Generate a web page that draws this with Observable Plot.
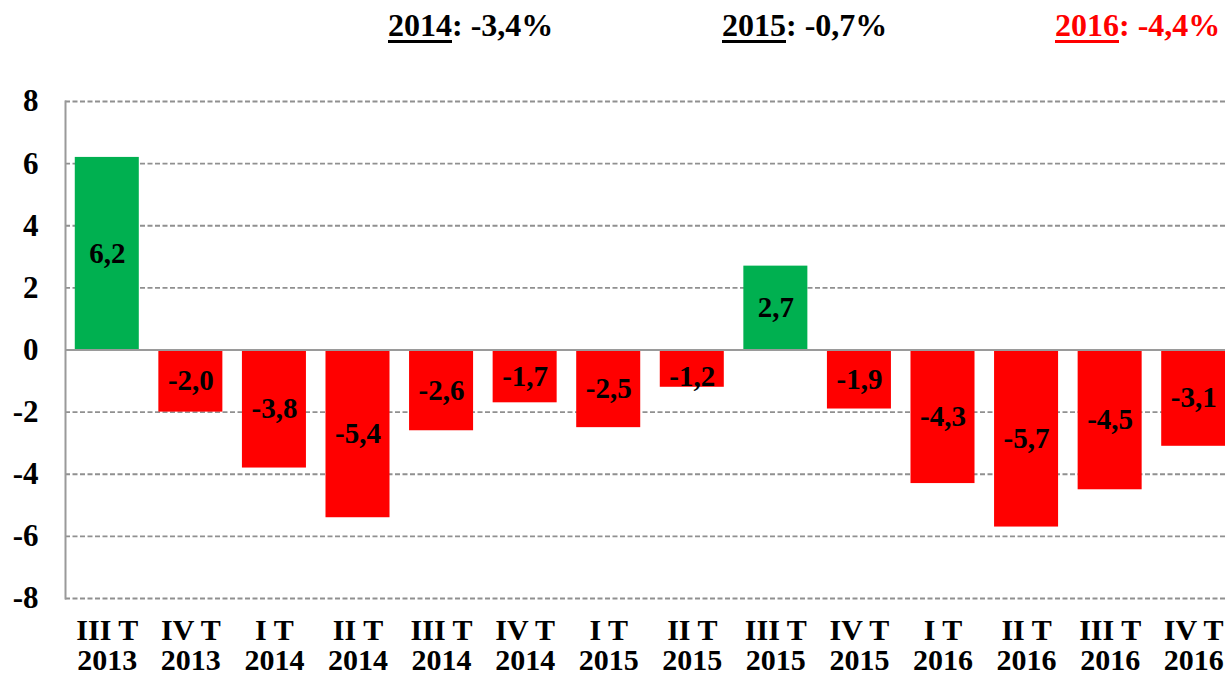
<!DOCTYPE html>
<html>
<head>
<meta charset="utf-8">
<script src="https://cdn.jsdelivr.net/npm/d3@7"></script>
<script src="https://cdn.jsdelivr.net/npm/@observablehq/plot@0.6"></script>
<style>
  html, body { margin: 0; padding: 0; background: #fff; }
  #wrap { position: relative; width: 1225px; height: 678px; overflow: hidden; font-family: "Liberation Serif", "Times New Roman", serif; font-weight: bold; }
  .hdr { position: absolute; top: 9px; font-size: 32px; line-height: 32px; white-space: nowrap; }
  .hdr .yr { text-decoration: underline; text-decoration-thickness: 3px; text-underline-offset: 4px; }
</style>
</head>
<body>
<div id="wrap"></div>
<script>
// Data
const quarters = ["III T", "IV T", "I T", "II T", "III T", "IV T", "I T", "II T", "III T", "IV T", "I T", "II T", "III T", "IV T"];
const years    = ["2013", "2013", "2014", "2014", "2014", "2014", "2015", "2015", "2015", "2015", "2016", "2016", "2016", "2016"];
const values   = [6.2, -2.0, -3.8, -5.4, -2.6, -1.7, -2.5, -1.2, 2.7, -1.9, -4.3, -5.7, -4.5, -3.1];
const yTicks   = [-8, -6, -4, -2, 0, 2, 4, 6, 8];
const headerYears  = ["2014", "2015", "2016"];
const headerValues = ["-3,4%", "-0,7%", "-4,4%"];
const headerColors = ["#000000", "#000000", "#FF0000"];
const headerLeft   = [388, 722, 1055];

const labels = quarters.map((q, i) => q + "\n" + years[i]);
const data = values.map((v, i) => ({ cat: labels[i], v }));
const fmt = v => v.toFixed(1).replace(".", ",");

const chart = Plot.plot({
  width: 1225,
  height: 678,
  marginLeft: 65,
  marginRight: 0,
  marginTop: 101,
  marginBottom: 80,
  style: { fontFamily: "Liberation Serif, Times New Roman, serif", fontWeight: "bold", color: "#000", background: "#fff" },
  x: { domain: labels, range: [65, 1235], paddingInner: 0.234, paddingOuter: 0.117, round: false, label: null },
  y: { domain: [-8, 8], ticks: yTicks, label: null },
  marks: [
    Plot.ruleY(yTicks.filter(t => t !== 0), { stroke: "#909090", strokeWidth: 1.8, strokeDasharray: "5,2.5" }),
    Plot.barY(data, { x: "cat", y: "v", fill: d => d.v >= 0 ? "#00B050" : "#FF0000" }),
    Plot.ruleY([0], { stroke: "#9a9a9a", strokeWidth: 2 }),
    Plot.frame({ anchor: "left", stroke: "#9a9a9a", strokeWidth: 2 }),
    Plot.text(data, {
      x: "cat",
      y: d => d.v > 0 ? d.v / 2 : Math.min(d.v / 2, -0.85),
      text: d => fmt(d.v),
      fontSize: 29, fontWeight: "bold", fill: "#000"
    }),
    Plot.axisY({ ticks: yTicks, tickSize: 0, tickPadding: 27, fontSize: 31, fontWeight: "bold", tickFormat: d => String(d) }),
    Plot.axisX({ tickSize: 0, tickPadding: 20, fontSize: 30, fontWeight: "bold", lineHeight: 1.0 })
  ]
});

const wrap = document.getElementById("wrap");
wrap.appendChild(chart);

headerYears.forEach((y, i) => {
  const d = document.createElement("div");
  d.className = "hdr";
  d.style.left = headerLeft[i] + "px";
  d.style.color = headerColors[i];
  const s = document.createElement("span");
  s.className = "yr";
  s.textContent = y;
  d.appendChild(s);
  d.appendChild(document.createTextNode(": " + headerValues[i]));
  wrap.appendChild(d);
});
</script>
</body>
</html>
